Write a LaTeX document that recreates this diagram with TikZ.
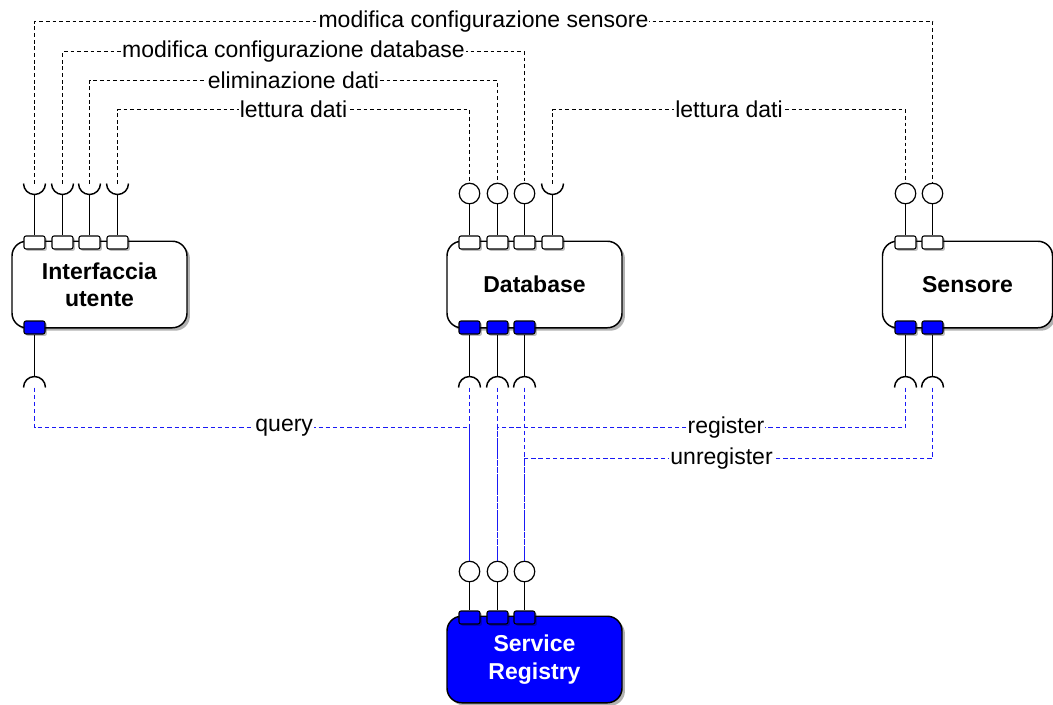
\documentclass[tikz,border=0pt]{standalone}
\usepackage{fontspec}
\setmainfont{Liberation Sans}
\usetikzlibrary{shadows}
\definecolor{SRBlue}{HTML}{0000FF}
\definecolor{LinkBlue}{HTML}{1A1AF5}

\begin{document}
\begin{tikzpicture}[
    % 用像素坐标, y 轴向下
    x=0.75pt, y=-0.75pt,
    font=\fontsize{17.25}{20.5}\selectfont,
    % 组件方框
    comp/.style={draw, line width=1.1pt, rounded corners=11pt, fill=white,
        minimum width=131.25pt, minimum height=64.9pt, align=center,
        font=\fontsize{17.25}{20.5}\selectfont\bfseries,
        drop shadow={shadow xshift=2.2pt, shadow yshift=-2.2pt, fill=black, opacity=0.3}},
    % 端口小方块
    port/.style={draw, line width=0.8pt, rounded corners=1.5pt, fill=white,
        minimum width=15.75pt, minimum height=9.75pt, inner sep=0pt,
        drop shadow={shadow xshift=1.4pt, shadow yshift=-1.4pt, fill=black, opacity=0.25}},
    bport/.style={port, fill=SRBlue},
    % 提供的接口 (圆)
    lolli/.style={circle, draw, line width=0.9pt, fill=white, minimum size=15.4pt, inner sep=0pt},
    wire/.style={line width=1.1pt},
    link/.style={line width=0.95pt, dash pattern=on 2.8pt off 2.2pt},
    blink/.style={link, LinkBlue, dash pattern=on 3.2pt off 2.2pt},
    lbl/.style={fill=white, text=black, inner sep=0.8pt}
]

    \useasboundingbox (0,0) rectangle (1053,704);

    \def\r{8.25pt}

    % --- 1. 组件 ---
    \node[comp] (ui) at (99.5,284.5) {Interfaccia\\utente};
    \node[comp] (db) at (534.5,284.5) {Database};
    \node[comp, minimum width=127.5pt] (sen) at (967.5,284.5) {Sensore};
    \node[comp, fill=SRBlue, text=white] (sr) at (534.5,659.5) {Service\\Registry};

    % --- 2. 端口与接口 ---
    \foreach \i/\x in {1/34.5, 2/62.5, 3/89.5, 4/117.5} {
        \node[port] (ui-p\i) at (\x,242.5) {};
        \coordinate (ui-r\i) at (\x,183.5);
    }
    \node[bport] (ui-b) at (34.5,327.5) {};
    \coordinate (ui-q) at (34.5,387.5);

    \foreach \i/\x in {1/469.5, 2/497.5, 3/524.5} {
        \node[port] (db-p\i) at (\x,242.5) {};
        \node[lolli] (db-c\i) at (\x,193.5) {};
        \node[bport] (db-b\i) at (\x,327.5) {};
        \coordinate (db-q\i) at (\x,387.5);
    }
    \node[port] (db-p4) at (552.5,242.5) {};
    \coordinate (db-r) at (552.5,183.5);

    \foreach \i/\x in {1/905.5, 2/932.5} {
        \node[port] (sen-p\i) at (\x,242.5) {};
        \node[lolli] (sen-c\i) at (\x,193.5) {};
        \node[bport] (sen-b\i) at (\x,327.5) {};
        \coordinate (sen-q\i) at (\x,387.5);
    }

    \foreach \i/\x in {1/469.5, 2/497.5, 3/524.5} {
        \node[bport] (sr-p\i) at (\x,617.5) {};
        \node[lolli] (sr-c\i) at (\x,571.5) {};
        \draw[wire] (sr-p\i.north) -- (sr-c\i.south);
    }

    % 端口到接口的实线
    \foreach \i in {1,2,3,4}
        \draw[wire] (ui-p\i.north) -- ([yshift=-\r]ui-r\i);
    \draw[wire] (db-p4.north) -- ([yshift=-\r]db-r);
    \foreach \i in {1,2,3}
        \draw[wire] (db-p\i.north) -- (db-c\i.south);
    \foreach \i in {1,2}
        \draw[wire] (sen-p\i.north) -- (sen-c\i.south);

    \draw[wire] (ui-b.south) -- ([yshift=\r]ui-q);
    \foreach \i in {1,2,3}
        \draw[wire] (db-b\i.south) -- ([yshift=\r]db-q\i);
    \foreach \i in {1,2}
        \draw[wire] (sen-b\i.south) -- ([yshift=\r]sen-q\i);

    % 需要的接口 (半圆)
    \foreach \c in {ui-r1, ui-r2, ui-r3, ui-r4, db-r}
        \draw[wire] ([xshift=-\r]\c) arc[start angle=180, end angle=360, radius=\r];
    \foreach \c in {ui-q, db-q1, db-q2, db-q3, sen-q1, sen-q2}
        \draw[wire] ([xshift=-\r]\c) arc[start angle=180, end angle=0, radius=\r];

    % --- 3. 上方连线 ---
    \coordinate (rail1) at (0,21.5);
    \coordinate (rail2) at (0,51.5);
    \coordinate (rail3) at (0,80.5);
    \coordinate (rail4) at (0,109.5);

    \draw[link] (ui-r1) -- (ui-r1 |- rail1)
        -- node[lbl] {modifica configurazione sensore} (sen-c2 |- rail1) -- (sen-c2.north);
    \draw[link] (ui-r2) -- (ui-r2 |- rail2)
        -- node[lbl] {modifica configurazione database} (db-c3 |- rail2) -- (db-c3.north);
    \draw[link] (ui-r3) -- (ui-r3 |- rail3)
        -- node[lbl] {eliminazione dati} (db-c2 |- rail3) -- (db-c2.north);
    \draw[link] (ui-r4) -- (ui-r4 |- rail4)
        -- node[lbl] {lettura dati} (db-c1 |- rail4) -- (db-c1.north);
    \draw[link] (db-r) -- (db-r |- rail4)
        -- node[lbl] {lettura dati} (sen-c1 |- rail4) -- (sen-c1.north);

    % --- 4. 下方连线 (蓝色) ---
    \coordinate (qrail) at (0,427.5);
    \coordinate (urail) at (0,458.5);

    \foreach \i in {1,2,3}
        \draw[blink] (db-q\i) -- (sr-c\i.north);
    \draw[blink] (ui-q) -- (ui-q |- qrail)
        -- node[lbl, pos=0.574] {query} (sr-c1 |- qrail) -- (sr-c1.north);
    \draw[blink] (sen-q1) -- (sen-q1 |- qrail)
        -- node[lbl, pos=0.44] {register} (sr-c2 |- qrail) -- (sr-c2.north);
    \draw[blink] (sen-q2) -- (sen-q2 |- urail)
        -- node[lbl, pos=0.517] {unregister} (sr-c3 |- urail) -- (sr-c3.north);

\end{tikzpicture}
\end{document}
